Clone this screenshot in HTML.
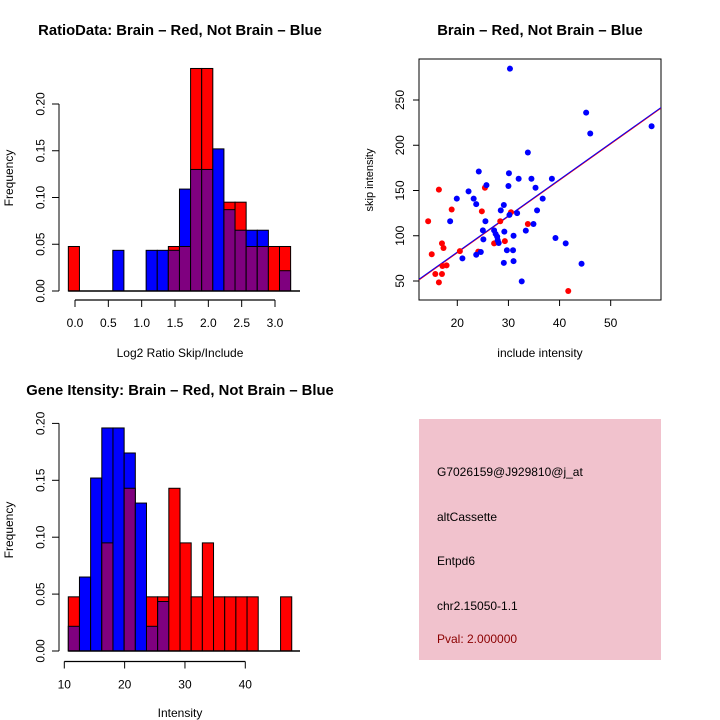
<!DOCTYPE html>
<html><head><meta charset="utf-8"><style>
html,body{margin:0;padding:0;background:#fff;}
svg{display:block;font-family:"Liberation Sans",sans-serif;}
</style></head><body>
<svg id="s" width="720" height="720" xmlns="http://www.w3.org/2000/svg">
<rect width="720" height="720" fill="#fff"/>
<g id="g1"></g>
<g id="g2"></g>
<g id="g3"></g>
<g>
<rect x="419" y="419" width="242" height="241" fill="#f1c2cd"/>
<text x="437" y="476" font-size="12">G7026159@J929810@j_at</text>
<text x="437" y="521" font-size="12">altCassette</text>
<text x="437" y="565" font-size="12">Entpd6</text>
<text x="437" y="610" font-size="12">chr2.15050-1.1</text>
<text x="437" y="643" font-size="12" fill="#8b0000">Pval: 2.000000</text>
</g>
</svg>
<script>
// ---- Histogram 1 data ----
const ratioBinStart = -0.1, ratioBinWidth = 0.1667;
const ratioRed  = [0.0476,0,0,0,0,0,0,0,0,0.0476,0.0476,0.238,0.238,0,0.095,0.095,0.0476,0.0476,0.0476,0.0476];
const ratioBlue = [0,0,0,0,0.0435,0,0,0.0435,0.0435,0.0435,0.109,0.130,0.130,0.152,0.087,0.065,0.065,0.065,0,0.0217];
const ratioXTicks = [0,0.5,1.0,1.5,2.0,2.5,3.0];
const ratioXTickLabels = ["0.0","0.5","1.0","1.5","2.0","2.5","3.0"];
const freqTicks = [0,0.05,0.10,0.15,0.20];
const freqTickLabels = ["0.00","0.05","0.10","0.15","0.20"];
// ---- Histogram 2 data ----
const intBinStart = 10.66, intBinWidth = 1.852;
const intRed  = [0.0476,0,0,0.095,0,0.143,0,0.0476,0.0476,0.143,0.095,0.0476,0.095,0.0476,0.0476,0.0476,0.0476,0,0,0.0476];
const intBlue = [0.0217,0.065,0.152,0.196,0.196,0.174,0.130,0.0217,0.0435,0,0,0,0,0,0,0,0,0,0,0];
const intXTicks = [10,20,30,40];
// ---- Scatter data ----
const blueX = [30.3,45.2,46.0,58.0,33.8,24.2,30.1,32.0,34.5,38.5,25.7,30.0,35.3,22.2,19.9,23.2,23.7,29.1,36.7,28.5,35.6,31.7,30.2,18.6,25.5,34.9,25.0,27.2,29.2,33.4,27.5,27.8,31.0,25.1,27.9,28.1,39.2,41.2,24.6,23.7,21.0,29.7,30.9,31.0,29.1,44.3,32.6];
const blueY = [284.6,236,213,221,192,171,169,163,163,163,156,155,153,149,141,141,135,134,141,128,128,125,123,116,116,113,106,106,104.5,105.6,102,99,100,96,95,92,97.5,91.6,82,79,75,84,84,72,70,69,49.6];
const redX = [16.4,25.4,18.9,24.8,30.5,14.3,28.4,33.8,17.0,17.3,15.0,20.5,24.1,27.2,29.3,17.1,17.9,15.7,17.0,16.4,41.7];
const redY = [151,153,129,127,126,116,116,113,91.6,86.5,79.5,83,82.4,91.6,94,66.6,67.3,57.7,57.7,48.5,39];
const fitIntercept = 1.0, fitSlope = 4.01;
const scXTicks = [20,30,40,50];
const scYTicks = [50,100,150,200,250];

const NS="http://www.w3.org/2000/svg";
function mk(parent,tag,attrs,text){const e=document.createElementNS(NS,tag);for(const k in attrs)e.setAttribute(k,attrs[k]);if(text!==undefined)e.textContent=text;parent.appendChild(e);return e;}

function hist(g,o){
  const sx=v=>o.x0+(v-o.v0)*o.kx, sy=v=>o.y0-v*o.ky;
  for(let i=0;i<o.red.length;i++){
    const a=o.binStart+i*o.binW, b=a+o.binW, r=o.red[i], bl=o.blue[i];
    const hi=Math.max(r,bl), lo=Math.min(r,bl);
    if(hi>0){
      const e=mk(g,'rect',{x:sx(a),y:sy(hi),width:sx(b)-sx(a),height:sy(0)-sy(hi),fill:r>=bl?'#ff0000':'#0000ff',stroke:'#000','stroke-width':1});
      
      
    }
    if(lo>0){
      const e=mk(g,'rect',{x:sx(a),y:sy(lo),width:sx(b)-sx(a),height:sy(0)-sy(lo),fill:'#7f007f',stroke:'#000','stroke-width':1});
      
      
    }
  }
  mk(g,'line',{x1:sx(o.binStart),x2:300,y1:sy(0),y2:sy(0),stroke:'#000','stroke-width':1.5});
  mk(g,'line',{x1:59,x2:59,y1:sy(0),y2:sy(0.2),stroke:'#000'});
  freqTicks.forEach((t,i)=>{
    mk(g,'line',{x1:52,x2:59,y1:sy(t),y2:sy(t),stroke:'#000'});
    const e=mk(g,'text',{x:0,y:0,'font-size':12,'text-anchor':'middle',transform:`translate(44.5,${sy(t)}) rotate(-90)`},freqTickLabels[i]);
    
    
  });
  const xt=o.xticks;
  mk(g,'line',{x1:sx(xt[0]),x2:sx(xt[xt.length-1]),y1:o.axY,y2:o.axY,stroke:'#000','stroke-width':1.2});
  xt.forEach((t,i)=>{
    mk(g,'line',{x1:sx(t),x2:sx(t),y1:o.axY,y2:o.axY+7,stroke:'#000'});
    const e=mk(g,'text',{x:sx(t),y:o.axY+27,'font-size':12,'text-anchor':'middle'},o.xlabels[i]);
    
    
  });
  let e=mk(g,'text',{x:0,y:0,'font-size':12,'text-anchor':'middle',transform:`translate(13,${o.ylabY}) rotate(-90)`},'Frequency');
  
  
  e=mk(g,'text',{x:o.xtX,y:o.xtY,'font-size':12,'text-anchor':'middle'},o.xtitle);
  
  
  e=mk(g,'text',{x:o.tX,y:o.tY,'font-size':14.8,'font-weight':'bold','text-anchor':'middle'},o.title);
  
  
}

hist(document.getElementById('g1'),{x0:75,v0:0,kx:66.67,y0:291,ky:935,red:ratioRed,blue:ratioBlue,binStart:ratioBinStart,binW:ratioBinWidth,
  xticks:ratioXTicks,xlabels:ratioXTickLabels,axY:300,ylabY:178,xtX:180,xtY:357,xtitle:'Log2 Ratio Skip/Include',tX:180,tY:35,title:'RatioData: Brain \u2013 Red, Not Brain \u2013 Blue'});
hist(document.getElementById('g3'),{x0:64.3,v0:10,kx:6.033,y0:651,ky:1138,red:intRed,blue:intBlue,binStart:intBinStart,binW:intBinWidth,
  xticks:intXTicks,xlabels:intXTicks.map(String),axY:661.5,ylabY:530,xtX:180,xtY:717,xtitle:'Intensity',tX:180,tY:395,title:'Gene Itensity: Brain \u2013 Red, Not Brain \u2013 Blue'});

(function(){
  const g=document.getElementById('g2');
  const L=419,R=661,T=59,B=300;
  const sx=v=>457.3+(v-20)*5.113, sy=v=>281-(v-50)*0.905;
  mk(g,'rect',{x:L,y:T,width:R-L,height:B-T,fill:'none',stroke:'#000'});
  const cp=mk(g,'clipPath',{id:'cp'});mk(cp,'rect',{x:L,y:T,width:R-L,height:B-T});
  const xa=(L-457.3)/5.113+20, xb=(R-457.3)/5.113+20;
  let e=mk(g,'line',{x1:sx(xa),y1:sy(fitIntercept+fitSlope*xa),x2:sx(xb),y2:sy(fitIntercept+fitSlope*xb),stroke:'#ff0000','clip-path':'url(#cp)'});
  
  
  e=mk(g,'line',{x1:sx(xa),y1:sy(fitIntercept+fitSlope*xa)-0.7,x2:sx(xb),y2:sy(fitIntercept+fitSlope*xb)-0.7,stroke:'#0000ff','clip-path':'url(#cp)'});
  
  
  redX.forEach((x,i)=>{const p=mk(g,'circle',{cx:sx(x),cy:sy(redY[i]),r:3,fill:'#ff0000'});
    
    });
  blueX.forEach((x,i)=>{const p=mk(g,'circle',{cx:sx(x),cy:sy(blueY[i]),r:3,fill:'#0000ff'});
    
    });
  scXTicks.forEach(t=>{mk(g,'line',{x1:sx(t),x2:sx(t),y1:B,y2:B+6,stroke:'#000'});
    const q=mk(g,'text',{x:sx(t),y:B+27,'font-size':12,'text-anchor':'middle'},String(t));
    
    });
  scYTicks.forEach(t=>{mk(g,'line',{x1:L-6,x2:L,y1:sy(t),y2:sy(t),stroke:'#000'});
    const q=mk(g,'text',{x:0,y:0,'font-size':12,'text-anchor':'middle',transform:`translate(404,${sy(t)}) rotate(-90)`},String(t));
    
    });
  e=mk(g,'text',{x:0,y:0,'font-size':11,'text-anchor':'middle',transform:'translate(373,180) rotate(-90)'},'skip intensity');
  
  
  e=mk(g,'text',{x:540,y:357,'font-size':12,'text-anchor':'middle'},'include intensity');
  
  
  e=mk(g,'text',{x:540,y:35,'font-size':14.8,'font-weight':'bold','text-anchor':'middle'},'Brain \u2013 Red, Not Brain \u2013 Blue');
  
  
})();
</script>
</body></html>
